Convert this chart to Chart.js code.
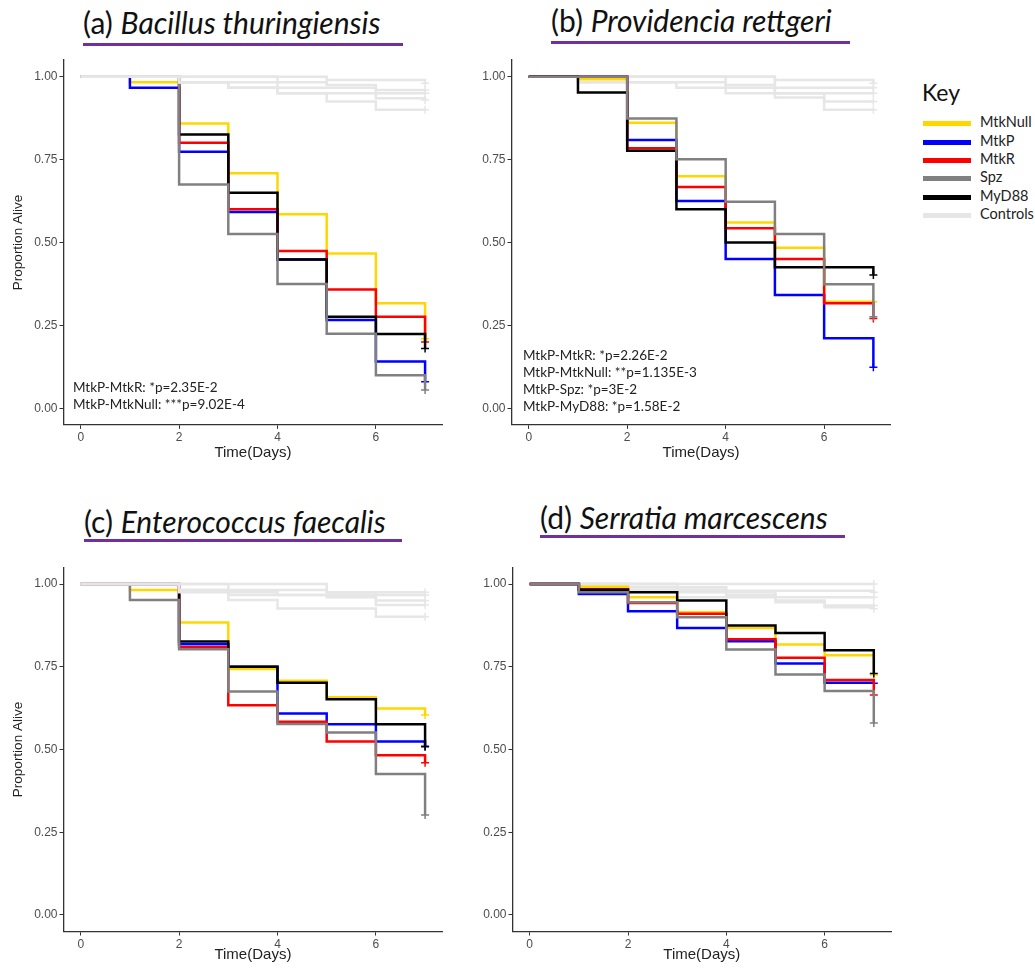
<!DOCTYPE html>
<html>
<head>
<meta charset="utf-8">
<script src="https://cdn.jsdelivr.net/npm/chart.js@4.4.1/dist/chart.umd.min.js"></script>
<style>
  body { margin: 0; background: #fff; width: 1035px; height: 972px; position: relative; overflow: hidden; font-family: Lato, sans-serif; }
  canvas { position: absolute; }
  .title { position: absolute; font-size: 30px; color: #111; white-space: nowrap; line-height: 32px; }
  .uline { position: absolute; height: 3px; background: #7030A0; }
  .note { position: absolute; font-size: 13.5px; color: #222; line-height: 17px; white-space: nowrap; }
  .key { position: absolute; left: 922px; top: 78px; font-size: 23px; color: #111; }
  .item { position: absolute; left: 923px; font-size: 14.5px; color: #222; line-height: 16px; }
  .item span { display: inline-block; width: 48px; height: 5px; vertical-align: middle; margin-right: 9px; }
</style>
</head>
<body>
<div class="title" style="left:83px;top:6px">(a) <i>Bacillus thuringiensis</i></div>
<div class="uline" style="left:83px;top:43px;width:320px"></div>
<div class="title" style="left:551px;top:4px">(b) <i>Providencia rettgeri</i></div>
<div class="uline" style="left:551px;top:41px;width:299px"></div>
<div class="title" style="left:84px;top:505px">(c) <i>Enterococcus faecalis</i></div>
<div class="uline" style="left:84px;top:539px;width:318px"></div>
<div class="title" style="left:540px;top:501px">(d) <i>Serratia marcescens</i></div>
<div class="uline" style="left:540px;top:535px;width:305px"></div>

<canvas id="pa"></canvas>
<canvas id="pb"></canvas>
<canvas id="pc"></canvas>
<canvas id="pd"></canvas>

<div class="note" style="left:73px;top:379px">MtkP-MtkR: *p=2.35E-2<br>MtkP-MtkNull: ***p=9.02E-4</div>
<div class="note" style="left:523px;top:347px">MtkP-MtkR: *p=2.26E-2<br>MtkP-MtkNull: **p=1.135E-3<br>MtkP-Spz: *p=3E-2<br>MtkP-MyD88: *p=1.58E-2</div>

<div class="key">Key</div>
<div id="legend"></div>

<script>
// time points (days) and axis ticks
const days = [0, 1, 2, 3, 4, 5, 6, 7];
const xTickValues = [0, 2, 4, 6];
const yTickValues = [0, 0.25, 0.5, 0.75, 1];
const groups = ['MtkNull', 'MtkP', 'MtkR', 'Spz', 'MyD88', 'Controls'];
const groupColors = ['#FFD700', '#0000FF', '#FF0000', '#808080', '#000000', '#E6E6E6'];

// (a) Bacillus thuringiensis
const btMtkNull = [1, 0.983, 0.859, 0.709, 0.585, 0.467, 0.317, 0.21];
const btMtkP    = [1, 0.967, 0.774, 0.592, 0.449, 0.266, 0.141, 0.08];
const btMtkR    = [1, 1, 0.801, 0.600, 0.474, 0.358, 0.276, 0.20];
const btSpz     = [1, 1, 0.675, 0.526, 0.375, 0.225, 0.100, 0.055];
const btMyD88   = [1, 1, 0.826, 0.650, 0.449, 0.276, 0.224, 0.18];
const btControls = [
  [1, 1, 1, 1, 1, 0.99, 0.99, 0.98],
  [1, 1, 0.983, 0.983, 0.983, 0.975, 0.96, 0.96],
  [1, 1, 0.983, 0.967, 0.967, 0.967, 0.95, 0.95],
  [1, 1, 0.983, 0.967, 0.95, 0.95, 0.935, 0.93],
  [1, 1, 1, 1, 0.95, 0.925, 0.90, 0.90]
];

// (b) Providencia rettgeri
const prMtkNull = [1, 0.992, 0.861, 0.700, 0.560, 0.484, 0.321, 0.321];
const prMtkP    = [1, 1, 0.809, 0.625, 0.450, 0.342, 0.211, 0.124];
const prMtkR    = [1, 1, 0.784, 0.667, 0.543, 0.450, 0.317, 0.271];
const prSpz     = [1, 1, 0.874, 0.751, 0.623, 0.526, 0.374, 0.276];
const prMyD88   = [1, 0.952, 0.777, 0.600, 0.500, 0.425, 0.425, 0.402];
const prControls = [
  [1, 1, 1, 1, 1, 0.99, 0.99, 0.98],
  [1, 0.983, 0.983, 0.983, 0.975, 0.967, 0.967, 0.967],
  [1, 0.983, 0.983, 0.967, 0.967, 0.95, 0.95, 0.95],
  [1, 1, 1, 1, 0.95, 0.937, 0.925, 0.925],
  [1, 1, 1, 1, 1, 0.95, 0.90, 0.90]
];

// (c) Enterococcus faecalis
const efMtkNull = [1, 0.982, 0.884, 0.743, 0.708, 0.658, 0.624, 0.604];
const efMtkP    = [1, 1, 0.818, 0.750, 0.609, 0.576, 0.524, 0.51];
const efMtkR    = [1, 1, 0.809, 0.634, 0.584, 0.524, 0.483, 0.46];
const efSpz     = [1, 0.952, 0.803, 0.675, 0.577, 0.551, 0.426, 0.302];
const efMyD88   = [1, 1, 0.826, 0.750, 0.702, 0.652, 0.576, 0.508];
const efControls = [
  [1, 1, 1, 1, 1, 0.975, 0.975, 0.975],
  [1, 1, 0.982, 0.982, 0.982, 0.975, 0.967, 0.967],
  [1, 1, 0.982, 0.967, 0.967, 0.967, 0.95, 0.95],
  [1, 1, 1, 0.952, 0.926, 0.926, 0.901, 0.901],
  [1, 1, 0.975, 0.975, 0.967, 0.96, 0.937, 0.937]
];

// (d) Serratia marcescens
const smMtkNull = [1, 0.992, 0.960, 0.915, 0.867, 0.817, 0.785, 0.725];
const smMtkP    = [1, 0.970, 0.918, 0.867, 0.827, 0.760, 0.702, 0.700];
const smMtkR    = [1, 0.984, 0.943, 0.910, 0.833, 0.777, 0.710, 0.665];
const smSpz     = [1, 0.975, 0.945, 0.900, 0.802, 0.727, 0.677, 0.58];
const smMyD88   = [1, 0.983, 0.975, 0.950, 0.875, 0.852, 0.800, 0.73];
const smControls = [
  [1, 1, 1, 1, 1, 1, 1, 1],
  [1, 1, 0.99, 0.99, 0.98, 0.98, 0.98, 0.975],
  [1, 1, 1, 0.975, 0.975, 0.96, 0.96, 0.96],
  [1, 1, 1, 0.96, 0.96, 0.95, 0.935, 0.935],
  [1, 1, 0.983, 0.983, 0.967, 0.945, 0.93, 0.925]
];

function curve(values, color, width, order) {
  const last = values.length - 1;
  return {
    data: days.map((d, i) => ({ x: d, y: values[i] })),
    borderColor: color,
    borderWidth: width,
    stepped: true,
    fill: false,
    order: order,
    pointStyle: 'cross',
    pointRadius: ctx => ctx.dataIndex === last ? 4 : 0,
    pointBorderColor: color,
    pointBorderWidth: 1.5,
    pointHoverRadius: 0
  };
}

function makePanel(id, box, area, series, controls, controlsOnTop, yTitle) {
  const cv = document.getElementById(id);
  cv.style.left = box.left + 'px';
  cv.style.top = box.top + 'px';
  cv.width = box.w; cv.height = box.h;
  cv.style.width = box.w + 'px'; cv.style.height = box.h + 'px';

  // draw order: lower order = on top
  const ds = [];
  const colOrder = [5, 4, 3, 1, 2]; // MtkNull, MtkP, MtkR, Spz, MyD88
  series.forEach((v, i) => ds.push(curve(v, groupColors[i], 2.5, colOrder[i] + (controlsOnTop ? 10 : 0))));
  controls.forEach(v => ds.push(curve(v, groupColors[5], 2.5, controlsOnTop ? 1 : 20)));

  const yW = area.l - box.left;
  const xH = box.top + box.h - area.b;
  const axisCol = '#333333';
  const tickFont = { family: 'Liberation Sans, Arial, sans-serif', size: 12 };

  new Chart(cv, {
    type: 'line',
    data: { datasets: ds },
    options: {
      animation: false,
      responsive: false,
      events: [],
      layout: { padding: { left: 0, top: area.t - box.top, right: box.left + box.w - area.r, bottom: 0 } },
      plugins: { legend: { display: false }, tooltip: { enabled: false } },
      scales: {
        x: {
          type: 'linear', min: -0.35, max: 7.35,
          afterBuildTicks: s => { s.ticks = xTickValues.map(v => ({ value: v })); },
          afterFit: s => { s.height = xH; },
          ticks: { color: '#4D4D4D', font: tickFont, padding: 2, callback: v => String(v) },
          grid: { display: true, drawOnChartArea: false, drawTicks: true, tickLength: 4, tickColor: axisCol, tickWidth: 1 },
          border: { display: true, color: axisCol, width: 1.3 },
          title: { display: true, text: 'Time(Days)', color: '#222', font: { family: 'Liberation Sans, Arial, sans-serif', size: 15 }, padding: { top: 0, bottom: 8 } }
        },
        y: {
          type: 'linear', min: -0.05, max: 1.05,
          afterBuildTicks: s => { s.ticks = yTickValues.map(v => ({ value: v })); },
          afterFit: s => { s.width = yW; },
          ticks: { color: '#4D4D4D', font: tickFont, padding: 2, callback: v => v.toFixed(2) },
          grid: { display: true, drawOnChartArea: false, drawTicks: true, tickLength: 4, tickColor: axisCol, tickWidth: 1 },
          border: { display: true, color: axisCol, width: 1.3 },
          title: { display: yTitle, text: 'Proportion Alive', color: '#222', font: { family: 'Liberation Sans, Arial, sans-serif', size: 13.5 }, padding: { top: 10, bottom: 0 } }
        }
      }
    }
  });
}

makePanel('pa', { left: 0, top: 50, w: 450, h: 420 }, { l: 63.5, t: 60.1, r: 442.3, b: 424.9 },
  [btMtkNull, btMtkP, btMtkR, btSpz, btMyD88], btControls, true, true);
makePanel('pb', { left: 450, top: 50, w: 450, h: 420 }, { l: 511.5, t: 60.1, r: 890.6, b: 424.9 },
  [prMtkNull, prMtkP, prMtkR, prSpz, prMyD88], prControls, false, false);
makePanel('pc', { left: 0, top: 557, w: 450, h: 415 }, { l: 63.5, t: 567.5, r: 442.3, b: 931.5 },
  [efMtkNull, efMtkP, efMtkR, efSpz, efMyD88], efControls, true, true);
makePanel('pd', { left: 450, top: 557, w: 450, h: 415 }, { l: 512.5, t: 567.5, r: 891, b: 931.5 },
  [smMtkNull, smMtkP, smMtkR, smSpz, smMyD88], smControls, false, false);

// legend
const itemTops = [114, 133, 151, 169, 188, 206];
const lg = document.getElementById('legend');
groups.forEach((g, i) => {
  const d = document.createElement('div');
  d.className = 'item';
  d.style.top = itemTops[i] + 'px';
  d.innerHTML = '<span style="background:' + groupColors[i] + '"></span>' + g;
  lg.appendChild(d);
});
</script>
</body>
</html>
